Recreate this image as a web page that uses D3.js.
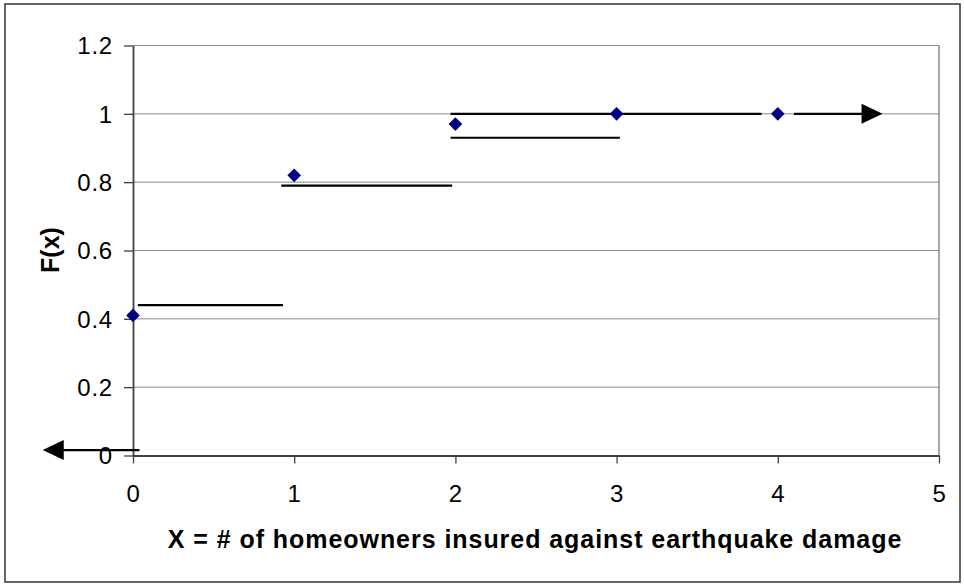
<!DOCTYPE html>
<html>
<head>
<meta charset="utf-8">
<script src="https://cdn.jsdelivr.net/npm/d3@7"></script>
<style>
  html, body { margin: 0; padding: 0; background: #fff; }
  svg { display: block; font-family: Arial, "Liberation Sans", sans-serif; }
</style>
</head>
<body>
<svg id="chart" width="964" height="586"></svg>
<script>
// Cumulative distribution F(x) of X = number of insured homeowners
const xValues = [0, 1, 2, 3, 4];
const cdfValues = [0.41, 0.82, 0.97, 1.0, 1.0];

// Axis ticks
const xTicks = [0, 1, 2, 3, 4, 5];
const yTicks = [0, 0.2, 0.4, 0.6, 0.8, 1, 1.2];
const yTickLabels = ["0", "0.2", "0.4", "0.6", "0.8", "1", "1.2"];

// Hand-drawn step segments of the CDF (data units): start x, end x, level
const stepStart = [0.03, 0.92, 1.97, 1.97, 4.10, -0.56];
const stepEnd   = [0.93, 1.98, 3.02, 3.90, 4.65, 0.04];
const stepLevel = [0.44, 0.79, 0.93, 1.00, 1.00, 0.016];
// Arrowheads: which end of a segment carries an arrow ("end", "start" or none)
const stepArrow = ["", "", "", "", "end", "start"];

const xTitle = "X = # of homeowners insured against earthquake damage";
const yTitle = "F(x)";

const svg = d3.select("#chart");

// Outer chart border
svg.append("rect")
  .attr("x", 5).attr("y", 4).attr("width", 955).attr("height", 578)
  .attr("fill", "#fff").attr("stroke", "#333").attr("stroke-width", 1.5);

const x = d3.scaleLinear().domain([0, 5]).range([133, 939]);
const y = d3.scaleLinear().domain([0, 1.2]).range([455.5, 45.5]);

// Horizontal gridlines
svg.append("g")
  .selectAll("line")
  .data(yTicks.filter(d => d > 0))
  .join("line")
  .attr("x1", x(0)).attr("x2", x(5))
  .attr("y1", d => y(d)).attr("y2", d => y(d))
  .attr("stroke", "#8a8a8a").attr("stroke-width", 1);

// Plot area right border
svg.append("line")
  .attr("x1", x(5)).attr("x2", x(5))
  .attr("y1", y(1.2)).attr("y2", y(0))
  .attr("stroke", "#8a8a8a").attr("stroke-width", 1.5);

// Axes
const xAxis = svg.append("g")
  .attr("transform", `translate(0,${y(0)})`)
  .call(d3.axisBottom(x).tickValues(xTicks).tickFormat(d3.format("d")).tickSize(8).tickSizeOuter(0).tickPadding(21));
const yAxis = svg.append("g")
  .attr("transform", `translate(${x(0)},0)`)
  .call(d3.axisLeft(y).tickValues(yTicks).tickFormat((d, i) => yTickLabels[i]).tickSize(9).tickSizeOuter(0).tickPadding(11));

[xAxis, yAxis].forEach(g => {
  g.select(".domain").attr("stroke", "#404040").attr("stroke-width", 1.8);
  g.selectAll(".tick line").attr("stroke", "#404040").attr("stroke-width", 1.3);
  g.selectAll(".tick text")
    .attr("fill", "#000")
    .style("font-size", "24px")
    .style("letter-spacing", "0.8px")
    .style("font-family", "Arial, 'Liberation Sans', sans-serif");
});
xAxis.selectAll(".tick text").attr("dy", "0.71em");
yAxis.selectAll(".tick text").attr("dy", "0.35em");

// Step segments
const steps = stepStart.map((s, i) => ({ s, e: stepEnd[i], v: stepLevel[i], arrow: stepArrow[i] }));
svg.append("g")
  .selectAll("line")
  .data(steps)
  .join("line")
  .attr("x1", d => x(d.s) + (d.arrow === "start" ? 18 : 0))
  .attr("x2", d => x(d.e) - (d.arrow === "end" ? 18 : 0))
  .attr("y1", d => y(d.v)).attr("y2", d => y(d.v))
  .attr("stroke", "#000").attr("stroke-width", 2.2);

// Arrowheads
svg.append("g")
  .selectAll("path")
  .data(steps.filter(d => d.arrow))
  .join("path")
  .attr("d", d => {
    const yy = y(d.v);
    if (d.arrow === "end") {
      const tip = x(d.e);
      return `M${tip},${yy} L${tip - 21},${yy - 10} L${tip - 21},${yy + 10} Z`;
    }
    const tip = x(d.s);
    return `M${tip},${yy} L${tip + 21},${yy - 10} L${tip + 21},${yy + 10} Z`;
  })
  .attr("fill", "#000");

// Data points (navy diamonds)
svg.append("g")
  .selectAll("path")
  .data(xValues.map((v, i) => [v, cdfValues[i]]))
  .join("path")
  .attr("transform", d => `translate(${x(d[0])},${y(d[1])})`)
  .attr("d", "M0,-6.8 L6.8,0 L0,6.8 L-6.8,0 Z")
  .attr("fill", "#000080");

// Axis titles
svg.append("text")
  .attr("x", (x(0) + x(5)) / 2 - 1).attr("y", 548)
  .attr("text-anchor", "middle")
  .style("font-size", "25px").style("font-weight", "bold")
  .style("letter-spacing", "0.95px")
  .text(xTitle);

svg.append("text")
  .attr("transform", `translate(59,250) rotate(-90)`)
  .attr("text-anchor", "middle")
  .style("font-size", "25px").style("font-weight", "bold")
  .text(yTitle);
</script>
</body>
</html>
